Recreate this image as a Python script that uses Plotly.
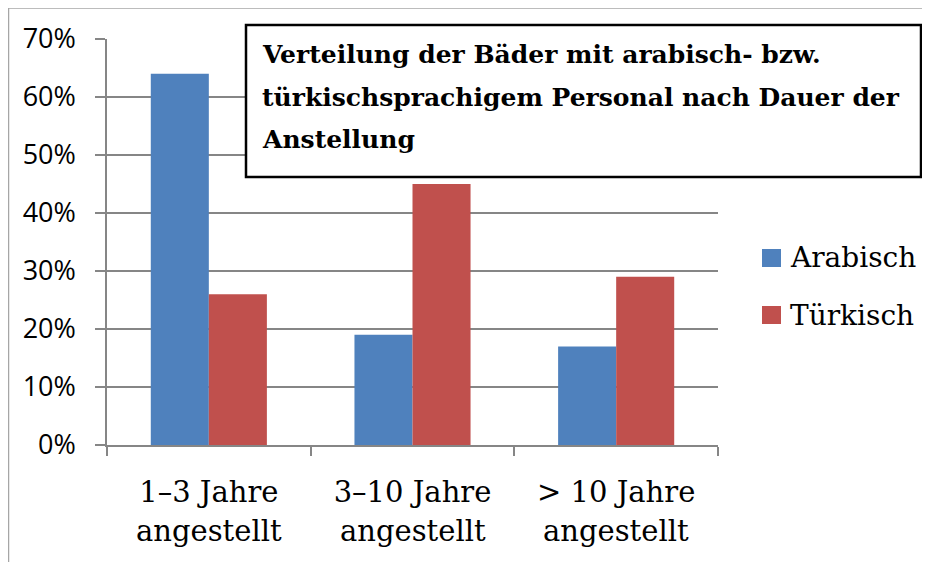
import plotly.graph_objects as go

categories = ["1–3 Jahre", "3–10 Jahre", "> 10 Jahre"]
category_suffix = "angestellt"
series_names = ["Arabisch", "Türkisch"]
arabisch = [64, 19, 17]
tuerkisch = [26, 45, 29]
colors = ["#4F81BD", "#C0504D"]
y_ticks = [0, 10, 20, 30, 40, 50, 60, 70]
y_tick_labels = [f"{v}%" for v in y_ticks]
title_lines = [
    "Verteilung der Bäder mit arabisch- bzw.",
    "türkischsprachigem Personal nach Dauer der",
    "Anstellung",
]

# page has 8px body margin; figure occupies 922x554 starting at (8,8)
OFF = 8
W, H = 922, 554
L, R, T, B = 99, 212, 31, 117
pw, ph = W - L - R, H - T - B

def px_x(p):
    return (p - OFF - L) / pw

def px_y(p):
    return (H - B - (p - OFF)) / ph

fig = go.Figure()
for name, vals, col in zip(series_names, [arabisch, tuerkisch], colors):
    fig.add_trace(go.Bar(x=categories, y=vals, name=name, marker_color=col,
                         marker_line_width=0, showlegend=False))

grid = "#868686"
xfont = dict(family="DejaVu Serif", size=29, color="#000")
fig.update_layout(
    width=W, height=H,
    margin=dict(l=L, r=R, t=T, b=B),
    paper_bgcolor="white", plot_bgcolor="white",
    barmode="group", bargap=0.43, bargroupgap=0,
    xaxis=dict(showline=True, linecolor=grid, linewidth=1.5, ticks="outside",
               tickson="boundaries", ticklen=9, tickcolor=grid, tickwidth=1.5,
               ticklabelstandoff=20, tickfont=xfont,
               showgrid=False, fixedrange=True),
    yaxis=dict(range=[0, 70], tickvals=y_ticks, ticktext=y_tick_labels,
               showline=True, linecolor=grid, linewidth=1.5, ticks="outside",
               ticklen=10, tickcolor=grid, tickwidth=1.5, ticklabelstandoff=14,
               showgrid=True, gridcolor=grid, gridwidth=1.5,
               tickfont=dict(family="Open Sans", size=27, color="#000"),
               zeroline=False, fixedrange=True),
)

# second line of category labels
for c in categories:
    fig.add_annotation(text=category_suffix, xref="x", yref="paper",
                       x=c, y=px_y(531), xanchor="center", yanchor="middle",
                       showarrow=False, font=xfont)

# outer chart border (top and left)
fig.add_shape(type="line", xref="paper", yref="paper",
              x0=px_x(8.5), x1=px_x(935), y0=px_y(8), y1=px_y(8),
              line=dict(color="#A6A6A6", width=1.5))
fig.add_shape(type="line", xref="paper", yref="paper",
              x0=px_x(8.5), x1=px_x(8.5), y0=px_y(8), y1=px_y(570),
              line=dict(color="#A6A6A6", width=1.5))

# legend (manual, larger swatches as in reference)
for i, (name, col) in enumerate(zip(series_names, colors)):
    yc = 258 + i * 57
    fig.add_shape(type="rect", xref="paper", yref="paper",
                  x0=px_x(762), x1=px_x(781), y0=px_y(yc + 9), y1=px_y(yc - 9),
                  fillcolor=col, line=dict(width=0))
    fig.add_annotation(text=name, xref="paper", yref="paper",
                       x=px_x(788), y=px_y(yc), xanchor="left", yanchor="middle",
                       showarrow=False,
                       font=dict(family="DejaVu Serif", size=28, color="black"))

# title box
fig.add_shape(type="rect", xref="paper", yref="paper", layer="above",
              x0=px_x(246), x1=px_x(921), y0=px_y(177), y1=px_y(25),
              fillcolor="white", line=dict(color="black", width=2.5))
for line, yc in zip(title_lines, [55, 97, 139]):
    fig.add_annotation(text=f"<b>{line}</b>", xref="paper", yref="paper",
                       x=px_x(260), y=px_y(yc), xanchor="left", yanchor="middle",
                       showarrow=False,
                       font=dict(family="DejaVu Serif", size=25, color="black"))

fig.write_html("out.html")
